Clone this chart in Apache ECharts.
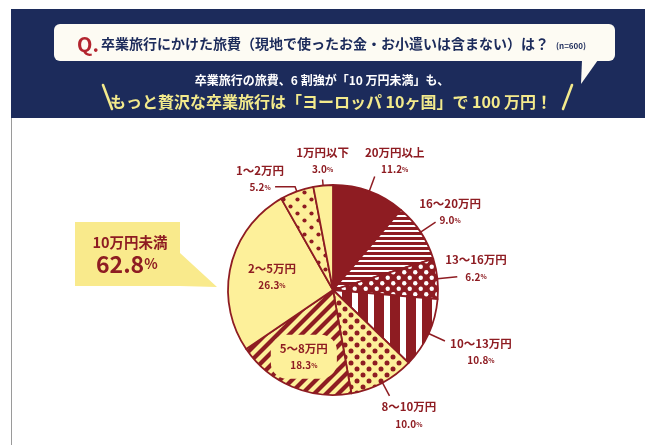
<!DOCTYPE html>
<html><head><meta charset="utf-8">
<script src="https://cdn.jsdelivr.net/npm/echarts@6/dist/echarts.min.js"></script>
<style>html,body{margin:0;padding:0;background:#fff}#c{width:645px;height:445px}</style>
</head><body><div id="c"></div>
<script>
// ---- data ----
const categories = ['20万円以上','16〜20万円','13〜16万円','10〜13万円','8〜10万円','5〜8万円','2〜5万円','1〜2万円','1万円以下'];
const values = [11.2, 9.0, 6.2, 10.8, 10.0, 18.3, 26.3, 5.2, 3.0];
const calloutLabel = '10万円未満';
const calloutValue = 62.8;
const questionText = '卒業旅行にかけた旅費（現地で使ったお金・お小遣いは含まない）は？';
const sampleText = '(n=600)';
const headline1 = '卒業旅行の旅費、6 割強が「10 万円未満」も、';
const headline2 = 'もっと贅沢な卒業旅行は「ヨーロッパ 10ヶ国」で 100 万円！';

// ---- styles ----
const FONT = '"Noto Sans CJK JP","Noto Sans",sans-serif';
const RED = '#8e1c22', YEL = '#fdf09a', WHITE = '#ffffff', NAVY = '#1c2b5b', HEADYEL = '#f3ea8c';

function makePattern(w, h, bg, draw) {
  const c = document.createElement('canvas');
  c.width = w; c.height = h;
  const g = c.getContext('2d');
  g.fillStyle = bg; g.fillRect(0, 0, w, h);
  draw(g);
  return { image: c, repeat: 'repeat' };
}
function dots(g, col, r, pts) { g.fillStyle = col; pts.forEach(p => { g.beginPath(); g.arc(p[0], p[1], r, 0, Math.PI * 2); g.fill(); }); }

const hStripes = makePattern(8, 5, RED, g => { g.fillStyle = WHITE; g.fillRect(0, 0, 8, 2); });
const vStripes = makePattern(16, 8, RED, g => { g.fillStyle = WHITE; g.fillRect(0, 0, 6, 8); });
const whiteDots = makePattern(11, 11, RED, g => dots(g, WHITE, 2.2, [[2.75, 2.75], [8.25, 8.25]]));
const redDots = makePattern(12, 12, YEL, g => dots(g, RED, 2.5, [[3, 3], [9, 9]]));
const sparseDots = makePattern(14, 14, YEL, g => dots(g, RED, 2.1, [[3.5, 3.5], [10.5, 10.5]]));
const diag = makePattern(12, 12, YEL, g => {
  g.strokeStyle = RED; g.lineWidth = 4.2;
  [[-2, 14, 14, -2], [-2, 2, 2, -2], [10, 14, 14, 10]].forEach(l => { g.beginPath(); g.moveTo(l[0], l[1]); g.lineTo(l[2], l[3]); g.stroke(); });
});
const sliceFills = [RED, hStripes, whiteDots, vStripes, redDots, diag, YEL, sparseDots, YEL];

// label line lengths and label offsets (relative to line end / inside point)
const lineLen = [16, 18, 20, 18, 15, 0, 0, 5, 6];
const lineLen2 = [0, 0, 0, 0, 0, 0, 0, 20, 0];
const labelOff = [[20, -15.5], [14.5, -10], [18.7, -8.3], [36, 11], [19.4, 19.7], [-7.6, 15.6], [-7, 0], [-15, -7.8], [0, -18.5]];
const insideIdx = [5, 6];

const data = categories.map((name, i) => {
  const d = { name, value: values[i], itemStyle: { color: sliceFills[i] } };
  if (insideIdx.includes(i)) {
    d.label = { position: 'inside' };
    if (i === 5) { d.label.backgroundColor = YEL; d.label.borderRadius = 16; d.label.padding = [5, 9]; }
    d.labelLine = { show: false };
  } else {
    d.labelLine = { show: true, length: lineLen[i], length2: lineLen2[i] };
  }
  return d;
});

const chart = echarts.init(document.getElementById('c'), null, { renderer: 'canvas' });
chart.setOption({
  animation: false,
  backgroundColor: '#fff',
  graphic: [
    { type: 'line', shape: { x1: 11.5, y1: 9, x2: 11.5, y2: 445 }, style: { stroke: '#9a9a9a', lineWidth: 1 } },
    { type: 'rect', shape: { x: 11, y: 9, width: 640, height: 109 }, style: { fill: NAVY } },
    { type: 'rect', shape: { x: 54, y: 24, width: 561, height: 37, r: 6 }, style: { fill: '#fdfbf3' } },
    { type: 'polygon', shape: { points: [[582, 60], [598, 60], [581, 84]] }, style: { fill: '#fdfbf3' } },
    { type: 'text', x: 77, y: 44, style: { text: 'Q.', font: 'bold 20px ' + FONT, fill: '#b3252f', textVerticalAlign: 'middle' } },
    { type: 'text', x: 101, y: 44, style: { text: questionText, font: 'bold 14px ' + FONT, fill: NAVY, textVerticalAlign: 'middle' } },
    { type: 'text', x: 556, y: 46, style: { text: sampleText, font: 'bold 8px ' + FONT, fill: NAVY, textVerticalAlign: 'middle' } },
    { type: 'text', x: 322, y: 80, style: { text: headline1, font: 'bold 12px ' + FONT, fill: WHITE, textAlign: 'center', textVerticalAlign: 'middle' } },
    { type: 'text', x: 331, y: 102, style: { text: headline2, font: 'bold 16px ' + FONT, fill: HEADYEL, textAlign: 'center', textVerticalAlign: 'middle' } },
    { type: 'line', shape: { x1: 103, y1: 85, x2: 112, y2: 109 }, style: { stroke: HEADYEL, lineWidth: 2.5, lineCap: 'round' } },
    { type: 'line', shape: { x1: 572, y1: 85, x2: 563, y2: 109 }, style: { stroke: HEADYEL, lineWidth: 2.5, lineCap: 'round' } },
    { type: 'polygon', shape: { points: [[75, 222], [180, 222], [180, 253], [217, 287], [180, 286], [75, 286]] }, style: { fill: '#f9ea8c' } },
    { type: 'text', x: 130, y: 242, style: { text: calloutLabel, font: 'bold 14.5px ' + FONT, fill: RED, textAlign: 'center', textVerticalAlign: 'middle' } },
    { type: 'text', x: 96, y: 264, style: { text: '{a|' + calloutValue.toFixed(1) + '}{b|%}', textVerticalAlign: 'middle',
      rich: { a: { font: 'bold 23px ' + FONT, fill: RED, color: RED }, b: { font: 'bold 14px ' + FONT, fill: RED, color: RED } } } }
  ],
  series: [{
    type: 'pie',
    center: [333, 290],
    radius: 105,
    startAngle: 90,
    clockwise: true,
    avoidLabelOverlap: false,
    emphasis: { disabled: true },
    itemStyle: { borderColor: RED, borderWidth: 1.8 },
    label: {
      show: true,
      position: 'outside',
      color: RED,
      fontFamily: FONT,
      formatter: p => '{n|' + p.name + '}\n{v|' + p.value.toFixed(1) + '}{s|%}',
      rich: {
        n: { fontSize: 11.5, fontWeight: 'bold', color: RED, fontFamily: FONT, lineHeight: 17, align: 'center' },
        v: { fontSize: 10, fontWeight: 'bold', color: RED, fontFamily: FONT, lineHeight: 17 },
        s: { fontSize: 6.5, fontWeight: 'bold', color: RED, fontFamily: FONT, lineHeight: 17 }
      }
    },
    labelLine: { lineStyle: { color: RED, width: 1.5 } },
    labelLayout: function (params) {
      const i = params.dataIndex;
      const o = labelOff[i];
      if (params.labelLinePoints && !insideIdx.includes(i)) {
        const e = params.labelLinePoints[2];
        return { x: e[0] + o[0], y: e[1] + o[1], align: 'center', verticalAlign: 'middle', labelLinePoints: params.labelLinePoints };
      }
      const r = params.labelRect;
      return { x: r.x + r.width / 2 + o[0], y: r.y + r.height / 2 + o[1], align: 'center', verticalAlign: 'middle' };
    },
    data: data
  }]
});
</script></body></html>
